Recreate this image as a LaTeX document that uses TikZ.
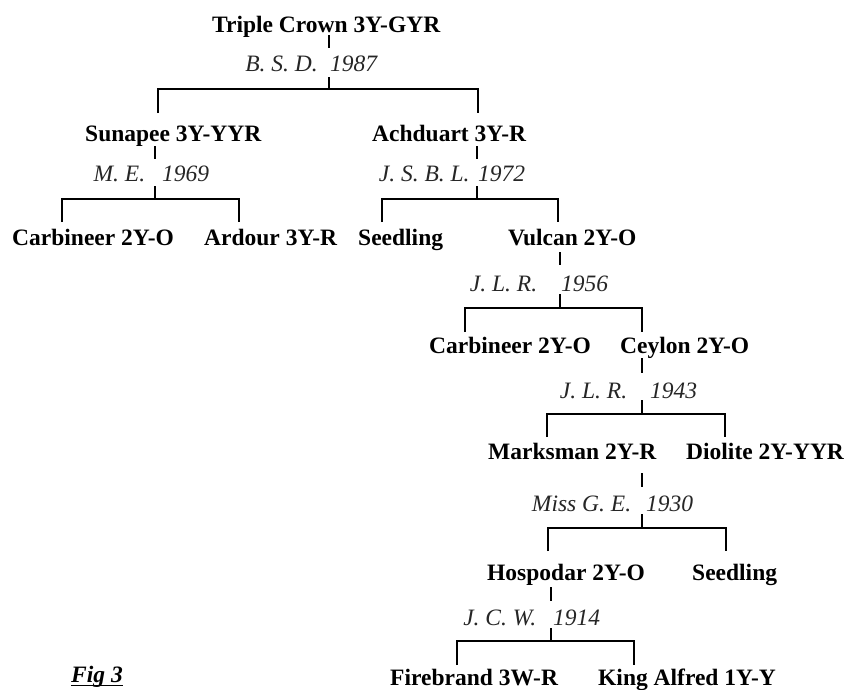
\documentclass[tikz,border=0pt]{standalone}
\usepackage{fontspec}
\setmainfont{Liberation Serif}
\begin{document}
\begin{tikzpicture}[x=1pt,y=-1pt,
  cv/.style={font=\fontsize{23.5}{28}\selectfont\bfseries, inner sep=0pt, anchor=base west},
  ann/.style={font=\fontsize{23.5}{28}\selectfont\itshape, text=black!85, inner sep=0pt, anchor=base west},
  link/.style={line width=2pt, black, line cap=butt}]
\fill[white] (0,0) rectangle (849,689);
\useasboundingbox (0,0) rectangle (849,689);

% cultivars
\node[cv] (T0) at (212,32) {Triple Crown 3Y-GYR};
\node[cv] (Sun) at (85,141) {Sunapee 3Y-YYR};
\node[cv] (Ach) at (372,141) {Achduart 3Y-R};
\node[cv] (CarA) at (12,245) {Carbineer 2Y-O};
\node[cv] (Ard) at (204,245) {Ardour 3Y-R};
\node[cv] (SeedA) at (358,245) {Seedling};
\node[cv] (Vul) at (508,245) {Vulcan 2Y-O};
\node[cv] (CarB) at (429,353) {Carbineer 2Y-O};
\node[cv] (Cey) at (620,353) {Ceylon 2Y-O};
\node[cv] (Mar) at (488,459) {Marksman 2Y-R};
\node[cv] (Dio) at (686,459) {Diolite 2Y-YYR};
\node[cv] (Hos) at (487,580) {Hospodar 2Y-O};
\node[cv] (SeedB) at (692,580) {Seedling};
\node[cv] (Fire) at (390,685) {Firebrand 3W-R};
\node[cv] (King) at (598,685) {King Alfred 1Y-Y};
\node[cv, font=\fontsize{23.5}{28}\selectfont\bfseries\itshape] (Fig) at (71,682) {Fig 3};
\draw[line width=1.3pt] ([yshift=-3.5pt]Fig.base west) -- ([yshift=-3.5pt]Fig.base east);

% annotations (year start at anchor)
\node[ann] (aT0) at (330,71) {\llap{B. S. D.\hspace*{12.5pt}}1987};
\node[ann] (aSun) at (162,181) {\llap{M. E.\hspace*{17pt}}1969};
\node[ann] (aAch) at (478,181) {\llap{J. S. B. L.\hspace*{8.6pt}}1972};
\node[ann] (aVul) at (561,291) {\llap{J. L. R.\hspace*{24pt}}1956};
\node[ann] (aCey) at (650,398) {\llap{J. L. R.\hspace*{23pt}}1943};
\node[ann] (aMar) at (646,511) {\llap{Miss G. E.\hspace*{15pt}}1930};
\node[ann] (aHos) at (553,625) {\llap{J. C. W.\hspace*{17pt}}1914};

% family: Triple Crown
\coordinate (t0a) at (329,35);  \coordinate (t0b) at (329,48);
\coordinate (t0c) at (329,77);  \coordinate (t0j) at (329,89);
\coordinate (t0l) at (158,89);  \coordinate (t0r) at (478,89);
\coordinate (t0ld) at (158,113); \coordinate (t0rd) at (478,113);
\draw[link] (t0a) -- (t0b);
\draw[link] (t0c) -- (t0j);
\draw[link] (t0ld) -- (t0l) -- (t0r) -- (t0rd);

% family: Sunapee
\coordinate (sua) at (155,146);  \coordinate (sub) at (155,159);
\coordinate (suc) at (155,186);  \coordinate (suj) at (155,199);
\coordinate (sul) at (62,199);   \coordinate (sur) at (239,199);
\coordinate (suld) at (62,222);  \coordinate (surd) at (239,222);
\draw[link] (sua) -- (sub);
\draw[link] (suc) -- (suj);
\draw[link] (suld) -- (sul) -- (sur) -- (surd);

% family: Achduart
\coordinate (aca) at (477,146);  \coordinate (acb) at (477,159);
\coordinate (acc) at (477,186);  \coordinate (acj) at (477,199);
\coordinate (acl) at (382,199);  \coordinate (acr) at (558,199);
\coordinate (acld) at (382,222); \coordinate (acrd) at (558,222);
\draw[link] (aca) -- (acb);
\draw[link] (acc) -- (acj);
\draw[link] (acld) -- (acl) -- (acr) -- (acrd);

% family: Vulcan
\coordinate (vua) at (560,252);  \coordinate (vub) at (560,265);
\coordinate (vuc) at (560,294);  \coordinate (vuj) at (560,308);
\coordinate (vul) at (465,308);  \coordinate (vur) at (642,308);
\coordinate (vuld) at (465,332); \coordinate (vurd) at (642,332);
\draw[link] (vua) -- (vub);
\draw[link] (vuc) -- (vuj);
\draw[link] (vuld) -- (vul) -- (vur) -- (vurd);

% family: Ceylon
\coordinate (cea) at (642,358);  \coordinate (ceb) at (642,373);
\coordinate (cec) at (642,400);  \coordinate (cej) at (642,414);
\coordinate (cel) at (547,414);  \coordinate (cer) at (725,414);
\coordinate (celd) at (547,437); \coordinate (cerd) at (725,437);
\draw[link] (cea) -- (ceb);
\draw[link] (cec) -- (cej);
\draw[link] (celd) -- (cel) -- (cer) -- (cerd);

% family: Marksman
\coordinate (maa) at (642,473);  \coordinate (mab) at (642,487);
\coordinate (mac) at (642,514);  \coordinate (maj) at (642,528);
\coordinate (mal) at (548,528);  \coordinate (mar) at (726,528);
\coordinate (mald) at (548,551); \coordinate (mard) at (726,551);
\draw[link] (maa) -- (mab);
\draw[link] (mac) -- (maj);
\draw[link] (mald) -- (mal) -- (mar) -- (mard);

% family: Hospodar
\coordinate (hoa) at (551,587);  \coordinate (hob) at (551,601);
\coordinate (hoc) at (551,628);  \coordinate (hoj) at (551,641);
\coordinate (hol) at (457,641);  \coordinate (hor) at (634,641);
\coordinate (hold) at (457,665); \coordinate (hord) at (634,665);
\draw[link] (hoa) -- (hob);
\draw[link] (hoc) -- (hoj);
\draw[link] (hold) -- (hol) -- (hor) -- (hord);
\end{tikzpicture}
\end{document}
